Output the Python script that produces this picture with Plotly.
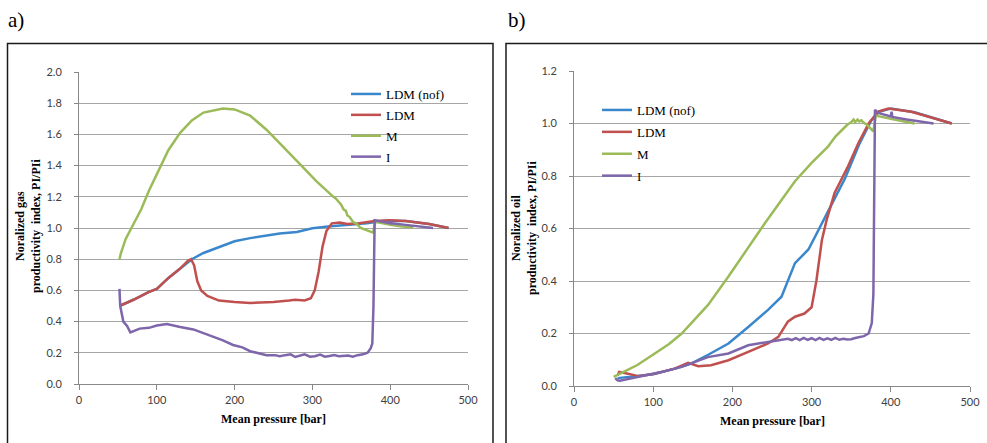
import plotly.graph_objects as go

# ---- panel a) normalized gas productivity index ----
a_nof_p = [52, 70, 90, 100, 115, 130, 145, 160, 180, 200, 220, 240, 258, 280, 300, 320, 344, 370, 390, 420, 450, 475]
a_nof_v = [0.50, 0.54, 0.59, 0.61, 0.68, 0.74, 0.80, 0.84, 0.88, 0.915, 0.935, 0.95, 0.965, 0.975, 0.999, 1.01, 1.02, 1.03, 1.045, 1.045, 1.025, 1.0]

a_ldm_p = [52, 70, 90, 100, 115, 130, 140, 144, 148, 152, 157, 165, 180, 200, 220, 250, 270, 278, 290, 298, 303, 308, 313, 318, 325, 335, 345, 360, 380, 400, 420, 450, 475]
a_ldm_v = [0.50, 0.54, 0.59, 0.61, 0.68, 0.74, 0.79, 0.80, 0.76, 0.66, 0.60, 0.565, 0.535, 0.525, 0.52, 0.525, 0.535, 0.54, 0.535, 0.55, 0.60, 0.72, 0.88, 0.98, 1.03, 1.035, 1.025, 1.03, 1.045, 1.05, 1.045, 1.025, 1.0]

a_m_p = [52, 54, 60, 67, 74, 80, 90, 104, 115, 130, 145, 160, 185, 200, 220, 241, 263, 284, 305, 320, 327, 330, 333, 337, 340, 343, 345, 348, 352, 356, 362, 370, 378, 381, 400, 415, 430]
a_m_v = [0.80, 0.84, 0.93, 1.00, 1.06, 1.12, 1.24, 1.39, 1.50, 1.61, 1.69, 1.74, 1.766, 1.76, 1.72, 1.63, 1.52, 1.41, 1.30, 1.23, 1.20, 1.19, 1.17, 1.15, 1.12, 1.11, 1.08, 1.07, 1.04, 1.03, 1.00, 0.985, 0.97, 1.04, 1.02, 1.01, 1.005]

a_i_p = [52, 53, 57, 62, 66, 78, 90, 100, 113, 130, 147, 164, 185, 198, 210, 220, 230, 241, 252, 258, 265, 272, 278, 285, 290, 297, 303, 310, 316, 322, 328, 334, 340, 346, 352, 358, 365, 371, 375, 377, 378.5, 379.5, 380, 390, 400, 401, 402, 420, 455]
a_i_v = [0.61, 0.50, 0.40, 0.37, 0.33, 0.355, 0.36, 0.375, 0.385, 0.365, 0.35, 0.32, 0.28, 0.25, 0.235, 0.21, 0.20, 0.185, 0.185, 0.178, 0.185, 0.19, 0.173, 0.183, 0.19, 0.175, 0.178, 0.188, 0.175, 0.18, 0.185, 0.178, 0.18, 0.183, 0.175, 0.185, 0.19, 0.20, 0.23, 0.26, 0.50, 0.90, 1.05, 1.04, 1.03, 1.05, 1.03, 1.02, 1.0]

# ---- panel b) normalized oil productivity index ----
b_nof_p = [55, 80, 100, 130, 148, 170, 195, 220, 245, 262, 270, 279, 296, 310, 325, 342, 360, 375, 385, 400, 430, 455, 477]
b_nof_v = [0.03, 0.038, 0.045, 0.068, 0.085, 0.12, 0.162, 0.225, 0.29, 0.34, 0.40, 0.468, 0.52, 0.60, 0.69, 0.79, 0.92, 1.01, 1.045, 1.057, 1.043, 1.02, 1.0]

b_ldm_p = [55, 57, 68, 81, 102, 127, 144, 150, 157, 173, 195, 220, 245, 258, 270, 279, 291, 300, 306, 313, 319, 329, 346, 359, 372, 384, 397, 426, 447, 477]
b_ldm_v = [0.04, 0.054, 0.047, 0.037, 0.047, 0.066, 0.088, 0.082, 0.075, 0.079, 0.098, 0.13, 0.162, 0.187, 0.245, 0.264, 0.276, 0.30, 0.40, 0.556, 0.633, 0.735, 0.837, 0.925, 1.0, 1.045, 1.057, 1.045, 1.027, 1.0]

b_m_p = [50, 60, 80, 102, 120, 136, 150, 169, 195, 220, 241, 260, 279, 300, 321, 325, 330, 340, 345, 350, 353, 355, 358, 360, 363, 365, 370, 378, 381, 403, 430]
b_m_v = [0.035, 0.05, 0.08, 0.124, 0.16, 0.20, 0.245, 0.308, 0.417, 0.53, 0.62, 0.70, 0.78, 0.85, 0.913, 0.93, 0.95, 0.98, 0.995, 1.005, 1.015, 1.005, 1.015, 1.008, 1.012, 1.005, 0.995, 0.97, 1.03, 1.016, 1.0]

b_i_p = [52, 55, 58, 81, 110, 136, 169, 195, 220, 245, 270, 275, 280, 285, 290, 295, 300, 305, 310, 315, 320, 325, 330, 335, 340, 345, 350, 355, 360, 366, 372, 376, 378, 379, 380, 384, 400, 401, 402, 420, 454]
b_i_v = [0.03, 0.022, 0.02, 0.034, 0.053, 0.073, 0.11, 0.124, 0.155, 0.168, 0.18, 0.175, 0.182, 0.175, 0.183, 0.176, 0.182, 0.175, 0.183, 0.176, 0.182, 0.176, 0.183, 0.176, 0.18, 0.177, 0.178, 0.183, 0.185, 0.19, 0.20, 0.24, 0.35, 0.60, 1.052, 1.04, 1.027, 1.045, 1.025, 1.015, 1.0]

series_names = ["LDM (nof)", "LDM", "M", "I"]
series_colors = ["#3a87cc", "#c0504d", "#9bbb59", "#7e66aa"]

panel_a = [(a_nof_p, a_nof_v), (a_ldm_p, a_ldm_v), (a_m_p, a_m_v), (a_i_p, a_i_v)]
panel_b = [(b_nof_p, b_nof_v), (b_ldm_p, b_ldm_v), (b_m_p, b_m_v), (b_i_p, b_i_v)]

W, H = 987, 443


def px(x):
    return x / W


def py(y):
    return 1 - y / H


fig = go.Figure()

for k, (p, v) in enumerate(panel_a):
    fig.add_trace(go.Scatter(
        x=p, y=v, mode="lines", name=series_names[k], legendgroup=f"a{k}",
        line=dict(color=series_colors[k], width=2.5),
        xaxis="x", yaxis="y", legend="legend"))

for k, (p, v) in enumerate(panel_b):
    fig.add_trace(go.Scatter(
        x=p, y=v, mode="lines", name=series_names[k], legendgroup=f"b{k}",
        line=dict(color=series_colors[k], width=2.5),
        xaxis="x2", yaxis="y2", legend="legend2"))

tick_font = dict(family="Lato, Open Sans, sans-serif", size=11, color="#404040")
grid_col = "#a6a6a6"
axis_col = "#888888"

xcommon = dict(range=[0, 500], dtick=100, tick0=0, showgrid=False, zeroline=False,
               showline=True, linecolor=axis_col, linewidth=1, ticks="outside",
               ticklen=5, tickcolor=axis_col, tickfont=tick_font, ticklabelstandoff=1,
               fixedrange=True, automargin=False)
ycommon = dict(dtick=0.2, tick0=0, tickformat=".1f", showgrid=True, gridcolor=grid_col,
               gridwidth=1, zeroline=False, showline=True, linecolor=axis_col, linewidth=1,
               ticks="outside", ticklen=4, tickcolor=axis_col, tickfont=tick_font,
               ticklabelstandoff=10, fixedrange=True, automargin=False)

legend_font = dict(family="Liberation Serif", size=13, color="#000000")

fig.update_layout(
    width=W, height=H, autosize=False,
    margin=dict(l=0, r=0, t=0, b=0, pad=0, autoexpand=False),
    paper_bgcolor="white", plot_bgcolor="white",
    xaxis=dict(domain=[px(79), px(468)], anchor="y", **xcommon),
    yaxis=dict(domain=[py(384), py(72)], anchor="x", range=[0, 2.0], **ycommon),
    xaxis2=dict(domain=[px(574), px(970)], anchor="y2", **xcommon),
    yaxis2=dict(domain=[py(386), py(71)], anchor="x2", range=[0, 1.2], **ycommon),
    legend=dict(x=px(346), y=py(79), xanchor="left", yanchor="top", font=legend_font,
                bgcolor="rgba(0,0,0,0)", tracegroupgap=1, itemwidth=30),
    legend2=dict(x=px(597), y=py(95), xanchor="left", yanchor="top", font=legend_font,
                 bgcolor="rgba(0,0,0,0)", tracegroupgap=2, itemwidth=30),
)

# panel frames
frame = dict(color="#1a1a1a", width=1.5)
fig.add_shape(type="rect", xref="paper", yref="paper",
              x0=px(7.5), x1=px(493), y0=-0.1, y1=py(43.5), line=frame, layer="below")
fig.add_shape(type="rect", xref="paper", yref="paper",
              x0=px(506), x1=1.1, y0=-0.1, y1=py(43.5), line=frame, layer="below")

title_font = dict(family="Liberation Serif", size=12, color="#000000")
annots = [
    dict(text="a)", x=px(6), y=py(20), xanchor="left", yanchor="middle",
         font=dict(family="Liberation Serif", size=21, color="#000000")),
    dict(text="b)", x=px(506), y=py(20), xanchor="left", yanchor="middle",
         font=dict(family="Liberation Serif", size=21, color="#000000")),
    dict(text="<b>Mean pressure [bar]</b>", x=px(273), y=py(419), xanchor="center",
         yanchor="middle", font=title_font),
    dict(text="<b>Mean pressure [bar]</b>", x=px(772), y=py(421), xanchor="center",
         yanchor="middle", font=title_font),
    dict(text="<b>Noralized gas<br>productivity\u00a0 index, PI/PIi</b>", x=px(28), y=py(226),
         xanchor="center", yanchor="middle", textangle=-90, font=title_font),
    dict(text="<b>Noralized oil<br>productivity\u00a0 index, PI/PIi</b>", x=px(524), y=py(228),
         xanchor="center", yanchor="middle", textangle=-90, font=title_font),
]
for a in annots:
    fig.add_annotation(xref="paper", yref="paper", showarrow=False, **a)

fig.write_html("out.html", config={"displayModeBar": False})
